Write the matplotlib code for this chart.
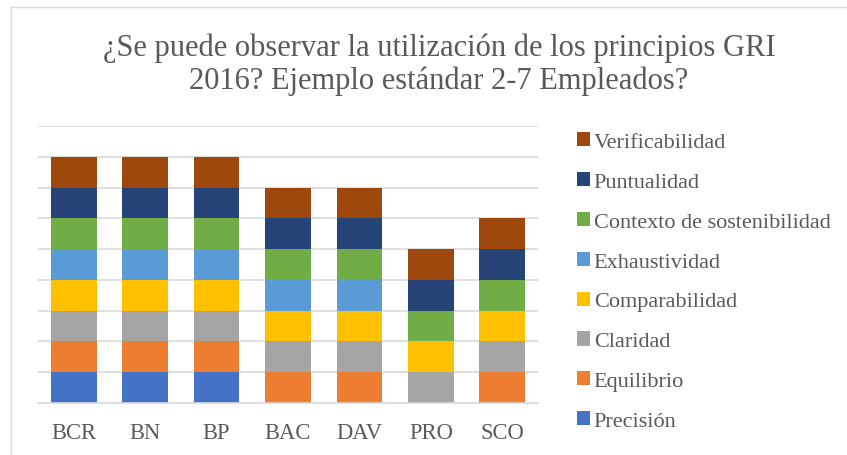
import matplotlib
matplotlib.use("Agg")
import matplotlib.pyplot as plt
from matplotlib.patches import Patch
from matplotlib.lines import Line2D
import numpy as np

categories = ["BCR", "BN", "BP", "BAC", "DAV", "PRO", "SCO"]
series_names = ["Precisión", "Equilibrio", "Claridad", "Comparabilidad",
                "Exhaustividad", "Contexto de sostenibilidad", "Puntualidad",
                "Verificabilidad"]
precision = [1, 1, 1, 0, 0, 0, 0]
equilibrio = [1, 1, 1, 1, 1, 0, 1]
claridad = [1, 1, 1, 1, 1, 1, 1]
comparabilidad = [1, 1, 1, 1, 1, 1, 1]
exhaustividad = [1, 1, 1, 1, 1, 0, 0]
contexto = [1, 1, 1, 1, 1, 1, 1]
puntualidad = [1, 1, 1, 1, 1, 1, 1]
verificabilidad = [1, 1, 1, 1, 1, 1, 1]
series_values = [precision, equilibrio, claridad, comparabilidad,
                 exhaustividad, contexto, puntualidad, verificabilidad]
colors = ["#4472C4", "#ED7D31", "#A5A5A5", "#FFC000", "#5B9BD5",
          "#70AD47", "#264478", "#9E480E"]
title_lines = ["¿Se puede observar la utilización de los principios GRI",
               "2016? Ejemplo estándar 2-7 Empleados?"]

plt.rcParams['font.family'] = ['Liberation Serif', 'DejaVu Serif']
text_color = "#595959"

fig = plt.figure(figsize=(8.47, 4.56), dpi=100)
W, H = 847, 456
ax = fig.add_axes([38 / W, (H - 404) / H, 500 / W, (404 - 127) / H])

x = np.arange(len(categories))
bottom = np.zeros(len(categories))
for name, vals, c in zip(series_names, series_values, colors):
    v = np.array(vals, dtype=float)
    ax.bar(x, v, bottom=bottom, width=0.64, color=c, label=name, zorder=2)
    bottom += v

ax.set_xlim(-0.5, len(categories) - 0.5)
ax.set_ylim(0, 9)
ax.set_yticks(np.arange(0, 10, 1))
ax.yaxis.grid(True, color="#D9D9D9", linewidth=1.2, zorder=0)
ax.set_axisbelow(True)
ax.tick_params(axis='y', left=False, labelleft=False)
ax.tick_params(axis='x', bottom=False, labelsize=16.3, labelcolor=text_color, pad=10)
ax.set_xticks(x)
ax.set_xticklabels(categories)
for s in ["top", "right", "left"]:
    ax.spines[s].set_visible(False)
ax.spines["bottom"].set_color("#D9D9D9")
ax.spines["bottom"].set_linewidth(1.2)

for line, base in zip(title_lines, [56, 89]):
    fig.text(439 / W, 1 - base / H, line, ha="center", va="baseline",
             fontsize=22, color=text_color)

handles = [Patch(facecolor=c, edgecolor="none") for c in colors][::-1]
labels = series_names[::-1]
leg = fig.legend(handles, labels, loc="upper left",
                 bbox_to_anchor=(577 / W, 1 - 133 / H),
                 frameon=False, fontsize=16, labelcolor=text_color,
                 handlelength=0.6, handleheight=0.6, handletextpad=0.15,
                 labelspacing=0.9, borderaxespad=0, borderpad=0)

# chart frame (left and top border)
fig.add_artist(Line2D([10.5 / W, 10.5 / W], [0, 1 - 8 / H], transform=fig.transFigure,
                      color="#D9D9D9", linewidth=1))
fig.add_artist(Line2D([10.5 / W, 1], [1 - 8 / H, 1 - 8 / H], transform=fig.transFigure,
                      color="#D9D9D9", linewidth=1))

fig.savefig("out.png", dpi=100)
